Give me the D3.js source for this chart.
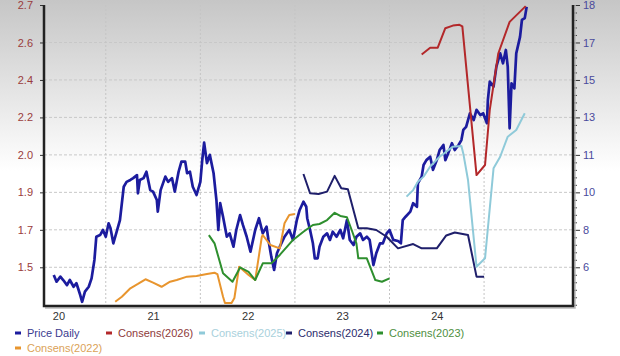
<!DOCTYPE html>
<html><head><meta charset="utf-8">
<script src="https://cdn.jsdelivr.net/npm/d3@7"></script>
<style>
html,body{margin:0;padding:0;background:#fff;}
svg{display:block;font-family:"Liberation Sans",Arial,sans-serif;}
</style></head>
<body>
<svg id="chart" width="620" height="356"></svg>
<script>
// ---------- data ----------
const leftTicks  = [2.7, 2.6, 2.4, 2.2, 2.0, 1.9, 1.7, 1.5];
const rightTicks = [18, 17, 15, 13, 11, 10, 8, 6];
const yearTicks  = [2020, 2021, 2022, 2023, 2024];
const yearLabels = ["20", "21", "22", "23", "24"];

// [decimal year, price]
const priceDaily = [
 [2019.95,5.59],[2019.98,5.23],[2020.02,5.50],[2020.05,5.32],[2020.09,5.05],[2020.12,5.32],[2020.16,4.96],
 [2020.19,5.15],[2020.23,4.52],[2020.25,4.16],[2020.28,4.70],[2020.32,4.96],[2020.35,5.41],[2020.38,6.39],
 [2020.40,7.63],[2020.44,7.72],[2020.47,7.99],[2020.50,7.63],[2020.53,8.35],[2020.55,8.08],[2020.58,7.28],
 [2020.62,7.99],[2020.65,8.52],[2020.69,10.15],[2020.72,10.28],[2020.76,10.33],[2020.79,10.38],[2020.83,10.46],
 [2020.84,9.95],[2020.86,10.33],[2020.90,10.38],[2020.93,10.55],[2020.97,10.06],[2021.00,10.02],[2021.04,9.59],
 [2021.05,8.97],[2021.08,10.06],[2021.13,10.42],[2021.16,10.28],[2021.20,10.38],[2021.23,10.02],[2021.27,10.55],
 [2021.30,10.82],[2021.34,10.82],[2021.36,10.51],[2021.39,10.55],[2021.42,10.15],[2021.46,9.86],[2021.50,10.28],
 [2021.52,10.86],[2021.54,11.65],[2021.57,10.78],[2021.60,11.00],[2021.64,10.51],[2021.67,9.59],[2021.69,7.99],
 [2021.71,9.42],[2021.74,8.70],[2021.78,7.63],[2021.81,7.81],[2021.85,7.10],[2021.88,7.99],[2021.92,8.79],
 [2021.95,8.26],[2021.99,7.63],[2022.03,6.83],[2022.08,7.99],[2022.12,8.62],[2022.16,7.81],[2022.20,8.17],
 [2022.22,7.46],[2022.25,6.57],[2022.28,5.86],[2022.31,6.75],[2022.34,7.10],[2022.39,7.63],[2022.44,7.99],
 [2022.48,7.46],[2022.52,8.52],[2022.55,9.06],[2022.59,9.50],[2022.62,9.23],[2022.63,8.62],[2022.66,7.99],
 [2022.69,7.28],[2022.71,6.48],[2022.74,6.48],[2022.76,7.10],[2022.80,7.63],[2022.84,7.81],[2022.87,7.46],
 [2022.90,7.90],[2022.94,7.63],[2022.98,7.99],[2023.01,7.55],[2023.05,8.52],[2023.08,7.46],[2023.12,7.19],
 [2023.15,7.63],[2023.19,7.81],[2023.22,7.46],[2023.26,7.63],[2023.29,7.46],[2023.33,6.12],[2023.36,6.75],
 [2023.40,7.28],[2023.43,7.28],[2023.47,7.81],[2023.50,7.99],[2023.54,7.46],[2023.59,7.40],[2023.62,7.28],
 [2023.64,8.52],[2023.67,8.70],[2023.72,8.97],[2023.75,9.42],[2023.79,9.23],[2023.80,10.24],[2023.84,10.42],
 [2023.86,10.73],[2023.89,10.86],[2023.93,10.95],[2023.96,10.60],[2024.00,10.86],[2024.03,11.26],[2024.07,11.53],
 [2024.09,10.86],[2024.12,11.08],[2024.16,11.62],[2024.19,11.26],[2024.23,11.53],[2024.26,11.79],[2024.28,12.33],
 [2024.31,12.50],[2024.35,13.22],[2024.39,12.86],[2024.42,13.40],[2024.46,13.13],[2024.49,13.22],[2024.53,12.69],
 [2024.54,13.93],[2024.56,14.91],[2024.60,14.64],[2024.63,15.71],[2024.67,16.42],[2024.70,15.89],[2024.73,16.60],
 [2024.75,15.71],[2024.77,12.42],[2024.79,14.82],[2024.82,14.55],[2024.84,16.42],[2024.88,17.15],[2024.90,17.60],
 [2024.93,17.65],[2024.95,17.95]
];

const consens2026 = [
 [2023.84,2.536],[2023.93,2.572],[2024.01,2.572],[2024.09,2.638],[2024.17,2.645],[2024.24,2.647],[2024.27,2.643],
 [2024.42,1.946],[2024.51,1.973],[2024.56,2.240],[2024.65,2.541],[2024.77,2.655],[2024.94,2.697]
];
const consens2025 = [
 [2023.68,1.877],[2023.75,1.906],[2023.80,1.928],[2023.86,1.942],[2023.93,1.969],[2024.03,1.995],[2024.17,2.044],
 [2024.26,2.047],[2024.28,2.008],[2024.33,1.933],[2024.42,1.503],[2024.51,1.548],[2024.60,1.964],[2024.67,1.995],
 [2024.75,2.097],[2024.84,2.133],[2024.93,2.222]
];
const consens2024 = [
 [2022.59,1.949],[2022.66,1.895],[2022.75,1.891],[2022.84,1.902],[2022.92,1.944],[2022.99,1.911],[2023.06,1.908],
 [2023.17,1.708],[2023.26,1.708],[2023.36,1.699],[2023.47,1.663],[2023.59,1.601],[2023.75,1.624],[2023.84,1.601],
 [2024.00,1.601],[2024.10,1.670],[2024.19,1.686],[2024.33,1.672],[2024.42,1.450],[2024.50,1.450]
];
const consens2023 = [
 [2021.59,1.672],[2021.65,1.628],[2021.74,1.468],[2021.84,1.423],[2021.92,1.499],[2022.01,1.476],[2022.08,1.432],
 [2022.16,1.521],[2022.25,1.521],[2022.34,1.566],[2022.48,1.646],[2022.59,1.690],[2022.69,1.726],[2022.76,1.731],
 [2022.84,1.752],[2022.92,1.791],[2022.98,1.774],[2023.05,1.767],[2023.10,1.699],[2023.15,1.628],[2023.17,1.548],
 [2023.26,1.548],[2023.35,1.432],[2023.42,1.423],[2023.50,1.441]
];
const consens2022 = [
 [2020.60,1.316],[2020.67,1.343],[2020.76,1.388],[2020.84,1.411],[2020.92,1.436],[2021.00,1.418],[2021.09,1.396],
 [2021.18,1.423],[2021.25,1.432],[2021.36,1.450],[2021.46,1.454],[2021.57,1.464],[2021.65,1.471],[2021.68,1.464],
 [2021.74,1.343],[2021.76,1.309],[2021.83,1.309],[2021.86,1.336],[2021.91,1.503],[2021.95,1.486],[2022.01,1.459],
 [2022.08,1.432],[2022.15,1.663],[2022.16,1.672],[2022.24,1.619],[2022.34,1.601],[2022.39,1.735],[2022.44,1.779],
 [2022.50,1.784]
];

const seriesNames  = ["Price Daily","Consens(2026)","Consens(2025)","Consens(2024)","Consens(2023)","Consens(2022)"];
const seriesColors = ["#1c1c9e","#b3282a","#8fcad9","#1f1f6b","#2e8f2e","#e8952e"];
const legendText   = ["#3b3b8f","#8e3a3a","#a9d1dc","#2b2b6b","#4f8f3f","#dba257"];

// ---------- layout ----------
const W = 620, H = 356;
const L = 44, R = 573, T = 5, B = 306, STEP = 37.47;

const svg = d3.select("#chart");
const defs = svg.append("defs");
const grad = defs.append("linearGradient").attr("id","bg").attr("x1",0).attr("y1",0).attr("x2",0).attr("y2",1);
grad.append("stop").attr("offset","0%").attr("stop-color","#c6c6c6");
grad.append("stop").attr("offset","48%").attr("stop-color","#ffffff");
grad.append("stop").attr("offset","100%").attr("stop-color","#ffffff");
svg.append("rect").attr("width",W).attr("height",H).attr("fill","url(#bg)");
defs.append("clipPath").attr("id","clip").append("rect")
  .attr("x",L).attr("y",0).attr("width",R-L).attr("height",B);

const x = d3.scaleLinear().domain([2019.847, 2025.44]).range([L, R]);
const yL = d3.scaleLinear().domain(leftTicks).range(leftTicks.map((d,i)=>T+i*STEP));
const yR = d3.scaleLinear().domain(rightTicks).range(rightTicks.map((d,i)=>T+i*STEP));

// grid
const grid = svg.append("g");
grid.selectAll("line.h").data(leftTicks).join("line")
  .attr("x1",L).attr("x2",R).attr("y1",d=>yL(d)).attr("y2",d=>yL(d))
  .attr("stroke","#c8c8c8").attr("stroke-width",1).attr("stroke-dasharray","3,2");
grid.selectAll("line.v").data(yearTicks.map(d=>d+0.5)).join("line")
  .attr("x1",d=>x(d)).attr("x2",d=>x(d)).attr("y1",T).attr("y2",B)
  .attr("stroke","#c4c4c4").attr("stroke-width",1).attr("stroke-dasharray","2,2");

// lines
const plot = svg.append("g").attr("clip-path","url(#clip)");
const lineR = d3.line().x(d=>x(d[0])).y(d=>yR(d[1]));
const lineL = d3.line().x(d=>x(d[0])).y(d=>yL(d[1]));
plot.append("path").datum(priceDaily).attr("d",lineR).attr("fill","none")
  .attr("stroke",seriesColors[0]).attr("stroke-width",2.7).attr("stroke-linejoin","round");
[[consens2022,5],[consens2023,4],[consens2024,3],[consens2025,2],[consens2026,1]].forEach(([s,i])=>{
  plot.append("path").datum(s).attr("d",lineL).attr("fill","none")
    .attr("stroke",seriesColors[i]).attr("stroke-width",2).attr("stroke-linejoin","round");
});

// axes
const axL = svg.append("g").attr("transform",`translate(${L},0)`)
  .call(d3.axisLeft(yL).tickValues(leftTicks).tickFormat(d3.format(".1f")).tickSize(4).tickPadding(7));
axL.select(".domain").remove();
axL.selectAll("line").attr("stroke","#333");
axL.selectAll("text").attr("fill","#9a3c3c").style("font-size","11px");

const minor = [];
for (let i=0;i<rightTicks.length-1;i++){
  for (let j=1;j<5;j++) minor.push(rightTicks[i]+(rightTicks[i+1]-rightTicks[i])*j/5);
}
const nR = rightTicks.length;
const lastGap = rightTicks[nR-2]-rightTicks[nR-1];
for (let j=1;j<=5;j++) minor.push(rightTicks[nR-1]-lastGap*j/5);
const axRm = svg.append("g").attr("transform",`translate(${R},0)`)
  .call(d3.axisRight(yR).tickValues(minor).tickFormat("").tickSize(4));
axRm.select(".domain").remove();
axRm.selectAll("line").attr("stroke","#444");
const axR = svg.append("g").attr("transform",`translate(${R},0)`)
  .call(d3.axisRight(yR).tickValues(rightTicks).tickSize(7).tickPadding(3));
axR.select(".domain").remove();
axR.selectAll("line").attr("stroke","#333");
axR.selectAll("text").attr("fill","#4a4a9c").style("font-size","11px");

const axB = svg.append("g").attr("transform",`translate(0,${B})`)
  .call(d3.axisBottom(x).tickValues(yearTicks).tickFormat((d,i)=>yearLabels[i]).tickSize(0).tickPadding(6));
axB.select(".domain").remove();
axB.selectAll("text").attr("fill","#333").style("font-size","11px");

// frame
svg.append("path").attr("d",`M${L+1},${B+2}H${R+2}V${T}`).attr("fill","none").attr("stroke","#bbb").attr("stroke-width",1.5);
svg.append("path").attr("d",`M${L},${T}V${B}H${R}V${T}`).attr("fill","none").attr("stroke","#222").attr("stroke-width",2.5);

// legend
const legendPos = [[15,333],[106,333],[199,333],[286,333],[377,333],[15,348]];
const lg = svg.append("g").selectAll("g").data(seriesNames).join("g")
  .attr("transform",(d,i)=>`translate(${legendPos[i][0]},${legendPos[i][1]})`);
lg.append("rect").attr("x",0).attr("y",-1.5).attr("width",6).attr("height",3).attr("fill",(d,i)=>seriesColors[i]);
lg.append("text").attr("x",12).attr("y",4).text(d=>d).attr("fill",(d,i)=>legendText[i]).style("font-size","11px");
</script>
</body></html>
